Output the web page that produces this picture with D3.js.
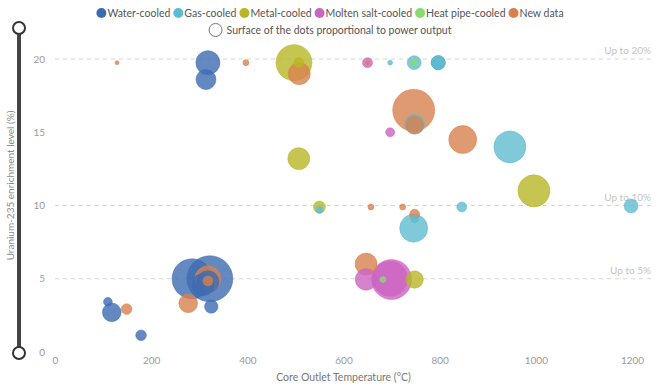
<!DOCTYPE html>
<html>
<head>
<meta charset="utf-8">
<script src="https://cdn.jsdelivr.net/npm/d3@7"></script>
<style>
  body { margin: 0; background: #fff; }
  svg text { font-family: Lato, "Open Sans", sans-serif; }
</style>
</head>
<body>
<svg id="chart" width="660" height="387"></svg>
<script>
// [core outlet temperature °C, U-235 enrichment %, power MW]
const waterCooled = [
  [318, 19.75, 397], [314, 18.6, 275],
  [285, 5.0, 1100], [322, 5.0, 1457], [308, 4.6, 333], [318, 4.8, 333],
  [325, 3.1, 123], [110, 3.43, 52], [118, 2.71, 240], [179, 1.14, 78],
  [797, 19.75, 135]
];
const gasCooled = [
  [697, 19.75, 17], [747, 19.75, 135], [797, 19.75, 135], [797, 19.75, 120],
  [748, 15.55, 275], [946, 14.0, 705], [846, 9.9, 69], [746, 8.45, 540],
  [748, 9.1, 44], [1198, 9.97, 135], [550, 9.7, 34]
];
const metalCooled = [
  [497, 19.75, 893], [507, 19.75, 69], [507, 13.2, 333],
  [996, 11.0, 705], [550, 9.9, 99], [748, 4.95, 208]
];
const moltenSaltCooled = [
  [650, 19.75, 69], [697, 15.0, 56], [647, 4.95, 320],
  [700, 4.95, 1100], [697, 5.0, 843]
];
const heatPipeCooled = [
  [747, 19.75, 34], [682, 4.95, 25]
];
const newData = [
  [129, 19.75, 11], [397, 19.75, 25], [508, 19.0, 333], [746, 16.5, 1215],
  [748, 15.5, 223], [848, 14.5, 540], [650, 19.75, 11], [657, 9.9, 25],
  [723, 9.9, 25], [748, 9.4, 69], [647, 6.0, 333], [277, 3.32, 240],
  [149, 2.93, 78], [318, 5.0, 465], [318, 4.85, 69]
];

const seriesNames = ['Water-cooled', 'Gas-cooled', 'Metal-cooled', 'Molten salt-cooled', 'Heat pipe-cooled', 'New data'];
const seriesData = [waterCooled, gasCooled, metalCooled, moltenSaltCooled, heatPipeCooled, newData];
const seriesColors = ['#3d6bb2', '#5fbcd0', '#b8b626', '#cc64c2', '#8ad872', '#d8814e'];

const xTicks = [0, 200, 400, 600, 800, 1000, 1200];
const yTicks = [0, 5, 10, 15, 20];
const limitLines = [5, 10, 20];
const limitLabels = ['Up to 5%', 'Up to 10%', 'Up to 20%'];

const width = 660;
const height = 387;
const svg = d3.select('#chart');

const x = d3.scaleLinear().domain([0, 1200]).range([55, 632]);
const y = d3.scaleLinear().domain([0, 20]).range([352, 59]);
const r = d3.scaleSqrt().domain([0, 3000]).range([0, 33]);

// dashed limit lines
const limits = svg.append('g');
limits.selectAll('line')
  .data(limitLines)
  .enter()
  .append('line')
  .attr('x1', x(0))
  .attr('x2', 655)
  .attr('y1', (d) => y(d))
  .attr('y2', (d) => y(d))
  .attr('stroke', '#d6d6d6')
  .attr('stroke-dasharray', '4,4');
limits.selectAll('text')
  .data(limitLines)
  .enter()
  .append('text')
  .attr('x', 651)
  .attr('y', (d) => y(d) - 5)
  .attr('text-anchor', 'end')
  .attr('font-size', 10)
  .attr('fill', '#c4c4c4')
  .text((d, i) => limitLabels[i]);

// axes
const xAxis = svg.append('g')
  .attr('transform', `translate(0, ${y(0)})`)
  .call(d3.axisBottom(x).tickValues(xTicks).tickFormat(d3.format('d')).tickSize(0).tickPadding(5));
const yAxis = svg.append('g')
  .attr('transform', 'translate(48, 0)')
  .call(d3.axisLeft(y).tickValues(yTicks).tickFormat(d3.format('d')).tickSize(0).tickPadding(3));
[xAxis, yAxis].forEach((g) => {
  g.select('.domain').remove();
  g.selectAll('text')
    .attr('fill', '#9a9a9a')
    .attr('font-size', 10)
    .style('font-family', 'Lato, "Open Sans", sans-serif');
});

svg.append('text')
  .attr('x', (x(0) + x(1200)) / 2)
  .attr('y', 381)
  .attr('text-anchor', 'middle')
  .attr('font-size', 10.5)
  .attr('fill', '#777')
  .text('Core Outlet Temperature (°C)');

// range slider on the left
const sliderTop = 28;
const sliderBottom = y(0) + 1;
const slider = svg.append('g');
slider.append('line')
  .attr('x1', 19).attr('x2', 19)
  .attr('y1', sliderTop).attr('y2', sliderBottom)
  .attr('stroke', '#444')
  .attr('stroke-width', 4);
slider.selectAll('circle')
  .data([sliderTop, sliderBottom])
  .enter()
  .append('circle')
  .attr('cx', 19)
  .attr('cy', (d) => d)
  .attr('r', 6)
  .attr('fill', '#fff')
  .attr('stroke', '#333')
  .attr('stroke-width', 2);

svg.append('text')
  .attr('transform', `translate(14, ${(sliderTop + sliderBottom) / 2 - 5}) rotate(-90)`)
  .attr('text-anchor', 'middle')
  .attr('font-size', 10)
  .attr('fill', '#8a8a8a')
  .text('Uranium-235 enrichment level (%)');

// bubbles, biggest first so small ones stay visible
const points = [];
seriesData.forEach((rows, i) => {
  rows.forEach((row) => {
    points.push({ temp: row[0], enrich: row[1], power: row[2], series: i });
  });
});
points.sort((a, b) => b.power - a.power);

svg.append('g')
  .selectAll('circle')
  .data(points)
  .enter()
  .append('circle')
  .attr('cx', (d) => x(d.temp))
  .attr('cy', (d) => y(d.enrich))
  .attr('r', (d) => r(d.power))
  .attr('fill', (d) => seriesColors[d.series])
  .attr('fill-opacity', 0.8)
  .attr('stroke', (d) => seriesColors[d.series])
  .attr('stroke-opacity', 0.5)
  .attr('stroke-width', 1);

// legend row 1
const legend = svg.append('g');
const items = legend.selectAll('g')
  .data(seriesNames)
  .enter()
  .append('g');
items.append('circle')
  .attr('r', 5)
  .attr('cx', 5)
  .attr('cy', 0)
  .attr('fill', (d, i) => seriesColors[i]);
items.append('text')
  .attr('x', 11)
  .attr('y', 4)
  .attr('font-size', 10.5)
  .attr('fill', '#555')
  .text((d) => d);
let offset = 0;
items.each(function () {
  const w = 11 + this.querySelector('text').getComputedTextLength();
  d3.select(this).attr('data-x', offset);
  offset += w + 3;
});
const row1Width = offset - 3;
items.attr('transform', function () {
  return `translate(${width / 2 - row1Width / 2 + Number(this.getAttribute('data-x'))}, 13)`;
});

// legend row 2
const row2 = svg.append('g');
row2.append('circle')
  .attr('cx', 7).attr('cy', 0).attr('r', 6.5)
  .attr('fill', '#fff')
  .attr('stroke', '#777')
  .attr('stroke-width', 1);
const row2Text = row2.append('text')
  .attr('x', 18)
  .attr('y', 4)
  .attr('font-size', 10.5)
  .attr('fill', '#555')
  .text('Surface of the dots proportional to power output');
const row2Width = 18 + row2Text.node().getComputedTextLength();
row2.attr('transform', `translate(${width / 2 - row2Width / 2}, 30)`);
</script>
</body>
</html>
